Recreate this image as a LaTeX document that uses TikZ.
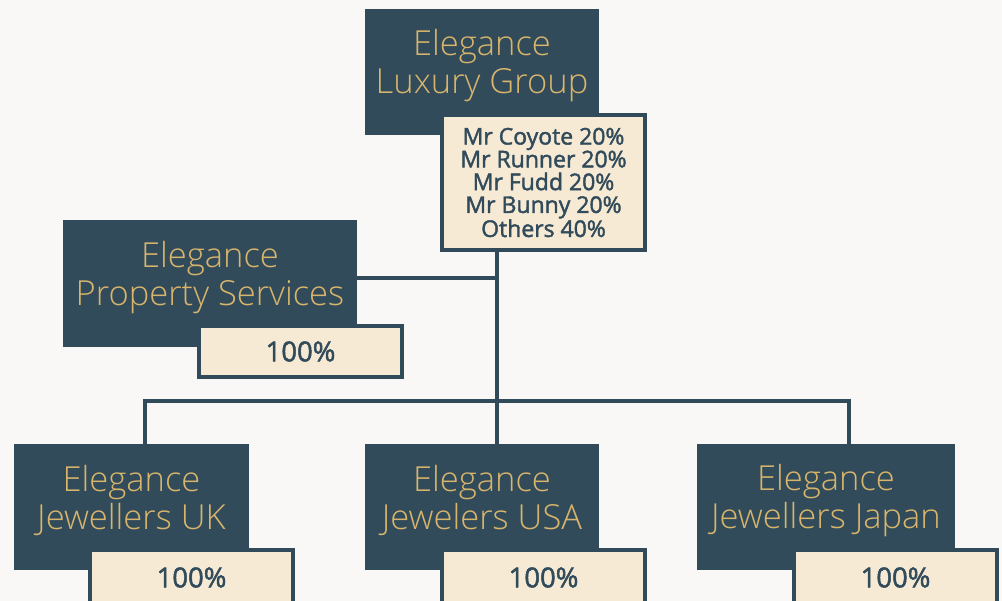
\documentclass[tikz,border=0pt]{standalone}
\usepackage{fontspec}
\setmainfont{Open Sans}
\newfontfamily\corpfont{Open Sans Light}
\newfontfamily\sharefont[FakeBold=1.8]{Open Sans}
\definecolor{slate}{HTML}{314B5B}
\definecolor{gold}{HTML}{D9B56B}
\definecolor{cream}{HTML}{F7EAD5}
\definecolor{paper}{HTML}{F9F8F6}
\tikzset{
  corplabel/.style={text=gold, align=center, font=\corpfont\fontsize{34.5}{38}\selectfont, yshift=6pt},
  link/.style={draw=slate, line width=3.2pt}
}
\begin{document}
\begin{tikzpicture}[x=1pt,y=-1pt]
      \useasboundingbox[fill=paper] (0,0) rectangle (1002,601);

      \begin{scope}[every node/.style={fill=slate, inner sep=0pt, minimum height=126pt}]
        \node[minimum width=234pt, label={[corplabel]center:Elegance\\Luxury Group}] (lux) at (482,72) {};
        \node[minimum width=294pt, minimum height=127pt, label={[corplabel]center:Elegance\\Property Services}] (prop) at (210,283.5) {};
        \node[minimum width=235pt, label={[corplabel]center:Elegance\\Jewellers UK}] (uk) at (131.5,507) {};
        \node[minimum width=234pt, label={[corplabel]center:Elegance\\Jewelers USA}] (usa) at (482,507) {};
        \node[minimum width=258pt, label={[corplabel]center:Elegance\\Jewellers Japan}] (jap) at (826,507) {};
      \end{scope}

      \begin{scope}[every node/.style={fill=cream, draw=slate, line width=4pt, text=slate,
          inner sep=0pt, minimum width=203pt, minimum height=55pt,
          font=\sharefont\fontsize{27.5}{29}\selectfont}]
        \node[minimum height=135pt, align=center, font=\sharefont\fontsize{23}{22.8}\selectfont] (luxsh) at (543.5,182.5)
          {Mr Coyote 20\%\\Mr Runner 20\%\\Mr Fudd 20\%\\Mr Bunny 20\%\\Others 40\%};
        \node[minimum height=51pt] (propsh) at (300.5,351.5) {100\%};
        \node (uksh)  at (191.5,577.5) {100\%};
        \node (usash) at (543.5,577.5) {100\%};
        \node (japsh) at (895.5,577.5) {100\%};
      \end{scope}

      \coordinate (hub) at (497,278);
      \coordinate (busl) at (145,401);
      \coordinate (busr) at (849,401);

      \path[link] (luxsh.south -| hub) -- (usa.north -| hub);
      \path[link] (hub -| prop.east) -- (hub);
      \path[link] (uk.north -| busl) -- (busl) -- (busr) -- (jap.north -| busr);

    \end{tikzpicture}
\end{document}
